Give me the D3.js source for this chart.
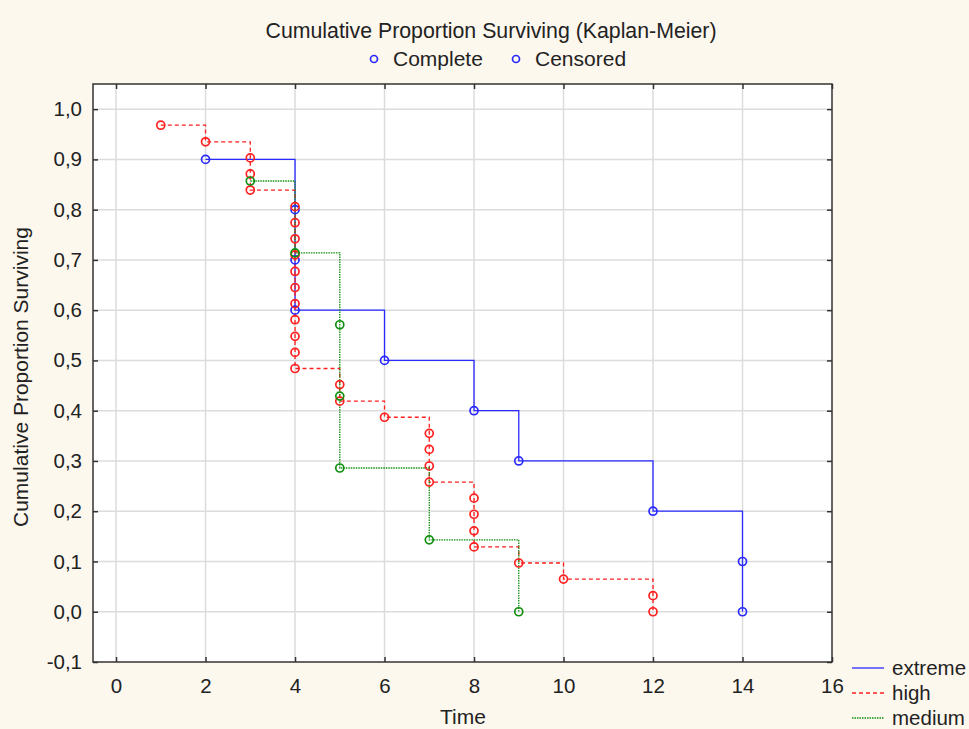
<!DOCTYPE html>
<html>
<head>
<meta charset="utf-8">
<script src="https://cdn.jsdelivr.net/npm/d3@7"></script>
<style>
  body { margin: 0; background: #fdf8ee; }
  svg { display: block; font-family: "Liberation Sans", Arial, sans-serif; }
</style>
</head>
<body>
<svg id="chart" width="969" height="729"></svg>
<script>
// group names + colours
var groups = ["extreme", "high", "medium"];
var colors = ["#2a2aff", "#ff2020", "#109010"];

// observed times for each group (one entry per point plotted)
var extremeTimes = [2, 4, 4, 4, 6, 8, 9, 12, 14, 14];
var extremeSurv  = [0.9, 0.8, 0.7, 0.6, 0.5, 0.4, 0.3, 0.2, 0.1, 0.0];

var highTimes = [1, 2, 3, 3, 3, 4, 4, 4, 4, 4, 4, 4, 4, 4, 4, 4, 5, 5, 6, 7, 7, 7, 7, 8, 8, 8, 8, 9, 10, 12, 12];
var highSurv  = [0.968, 0.935, 0.903, 0.871, 0.839, 0.806, 0.774, 0.742, 0.710, 0.677, 0.645, 0.613, 0.581, 0.548, 0.516, 0.484,
                 0.452, 0.419, 0.387, 0.355, 0.323, 0.290, 0.258, 0.226, 0.194, 0.161, 0.129, 0.097, 0.065, 0.032, 0.0];

var mediumTimes = [3, 4, 5, 5, 5, 7, 9];
var mediumSurv  = [0.857, 0.714, 0.571, 0.429, 0.286, 0.143, 0.0];

var xTicks = [0, 2, 4, 6, 8, 10, 12, 14, 16];
var yTicks = [-0.1, 0, 0.1, 0.2, 0.3, 0.4, 0.5, 0.6, 0.7, 0.8, 0.9, 1.0];

var series = [
  {name: "extreme", t: extremeTimes, s: extremeSurv, dash: null},
  {name: "high", t: highTimes, s: highSurv, dash: "4,3"},
  {name: "medium", t: mediumTimes, s: mediumSurv, dash: "1.5,1"}
];

var svg = d3.select("#chart");
var L = 93, R = 832, T = 84, B = 662;
var FS = 20.5;

var x = d3.scaleLinear().domain([-0.515, 16]).range([L, R]);
var y = d3.scaleLinear().domain([-0.1, 1.05]).range([B, T]);

// plot background
svg.append("rect").attr("x", L).attr("y", T).attr("width", R - L).attr("height", B - T).attr("fill", "#fff");

// grid
var grid = svg.append("g");
grid.selectAll(".vg").data(xTicks.slice(0, -1)).enter().append("line")
  .attr("x1", d => x(d)).attr("x2", d => x(d)).attr("y1", T).attr("y2", B)
  .attr("stroke", "#dcdcdc").attr("stroke-width", 1.5);
grid.selectAll(".hg").data(yTicks.slice(1)).enter().append("line")
  .attr("x1", L).attr("x2", R).attr("y1", d => y(d)).attr("y2", d => y(d))
  .attr("stroke", "#dcdcdc").attr("stroke-width", 1.5);

// axes (inward ticks)
function fmt(d) { return d3.format(".1f")(d).replace(".", ",").replace("−", "-"); }
var ax = svg.append("g").attr("transform", "translate(0," + B + ")")
  .call(d3.axisBottom(x).tickValues(xTicks).tickSizeInner(-5).tickSizeOuter(0).tickPadding(16));
var ay = svg.append("g").attr("transform", "translate(" + L + ",0)")
  .call(d3.axisLeft(y).tickValues(yTicks).tickFormat(fmt).tickSizeInner(-5).tickSizeOuter(0).tickPadding(11));
svg.append("g").attr("transform", "translate(0," + T + ")")
  .call(d3.axisTop(x).tickValues(xTicks).tickSizeInner(-5).tickSizeOuter(0).tickFormat(""));
svg.append("g").attr("transform", "translate(" + R + ",0)")
  .call(d3.axisRight(y).tickValues(yTicks).tickSizeInner(-5).tickSizeOuter(0).tickFormat(""));
svg.selectAll(".domain").remove();
svg.selectAll(".tick line").attr("stroke", "#333").attr("stroke-width", 1.5);
svg.selectAll(".tick text").attr("font-size", FS).attr("fill", "#222")
  .attr("font-family", "Liberation Sans, Arial, sans-serif");
ax.selectAll(".tick text").attr("dy", "0.71em");

// frame
svg.append("rect").attr("x", L).attr("y", T).attr("width", R - L).attr("height", B - T)
  .attr("fill", "none").attr("stroke", "#333").attr("stroke-width", 1.5);

// step lines + points
series.forEach(function(sr, i) {
  var pts = [[sr.t[0], sr.s[0]]];
  for (var k = 1; k < sr.t.length; k++) {
    pts.push([sr.t[k], sr.s[k - 1]]);
    pts.push([sr.t[k], sr.s[k]]);
  }
  var line = d3.line().x(d => x(d[0])).y(d => y(d[1]));
  svg.append("path").datum(pts).attr("d", line)
    .attr("fill", "none").attr("stroke", colors[i]).attr("stroke-width", 1.3)
    .attr("stroke-dasharray", sr.dash);
});
series.forEach(function(sr, i) {
  svg.append("g").selectAll("circle").data(sr.t.map((t, k) => [t, sr.s[k]])).enter().append("circle")
    .attr("cx", d => x(d[0])).attr("cy", d => y(d[1])).attr("r", 4)
    .attr("fill", "none").attr("stroke", colors[i]).attr("stroke-width", 1.7);
});

// title + top legend
svg.append("text").attr("x", 491).attr("y", 38).attr("text-anchor", "middle")
  .attr("font-size", 21.3).attr("fill", "#222").text("Cumulative Proportion Surviving (Kaplan-Meier)");
[["Complete", 374], ["Censored", 516]].forEach(function(d) {
  svg.append("circle").attr("cx", d[1]).attr("cy", 59).attr("r", 3.5)
    .attr("fill", "none").attr("stroke", "#2a2aff").attr("stroke-width", 1.7);
  svg.append("text").attr("x", d[1] + 19).attr("y", 66).attr("font-size", 21).attr("fill", "#222").text(d[0]);
});

// axis titles
svg.append("text").attr("x", 463).attr("y", 724).attr("text-anchor", "middle")
  .attr("font-size", 21).attr("fill", "#222").text("Time");
svg.append("text").attr("transform", "translate(28,377) rotate(-90)").attr("text-anchor", "middle")
  .attr("font-size", 21).attr("fill", "#222").text("Cumulative Proportion Surviving");

// series legend, bottom right
series.forEach(function(sr, i) {
  var yy = 668 + i * 25;
  svg.append("line").attr("x1", 852).attr("x2", 884).attr("y1", yy).attr("y2", yy)
    .attr("stroke", colors[i]).attr("stroke-width", 1.3).attr("stroke-dasharray", sr.dash);
  svg.append("text").attr("x", 892).attr("y", yy + 7).attr("font-size", 20.5).attr("fill", "#222").text(groups[i]);
});
</script>
</body>
</html>
